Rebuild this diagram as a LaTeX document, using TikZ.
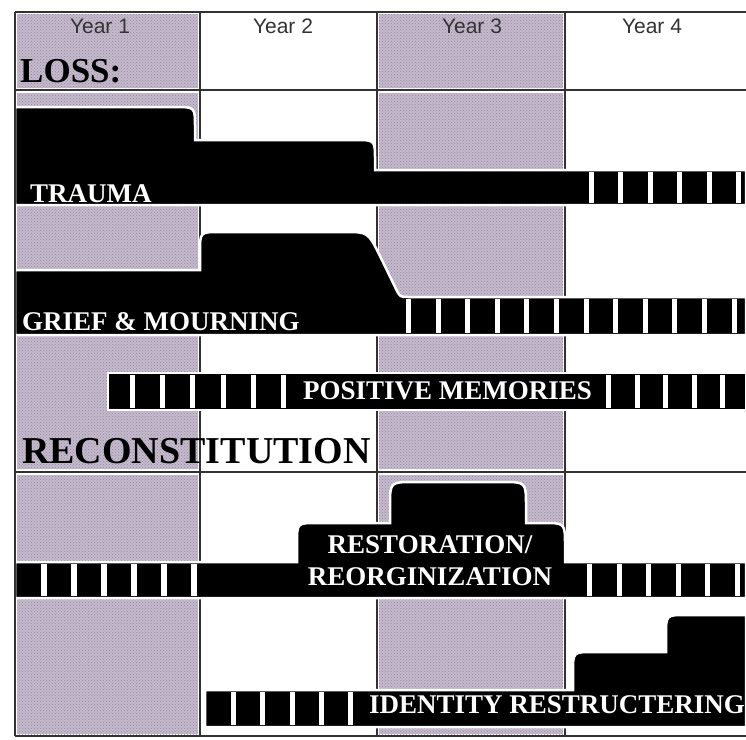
\documentclass[tikz,border=0pt]{standalone}
\usepackage{fontspec}
\setmainfont{Liberation Serif}
\newfontfamily\yearfont{Liberation Sans}
\usetikzlibrary{patterns}
\definecolor{shadecol}{RGB}{196,186,204}
\definecolor{dotcol}{RGB}{150,136,162}
\definecolor{rulecol}{RGB}{50,50,50}

\begin{document}
\begin{tikzpicture}[x=1pt, y=-1pt,
		colshade/.style={fill=shadecol, postaction={pattern=crosshatch dots, pattern color=dotcol}},
		rule/.style={draw=rulecol, line width=1.2pt},
		bar/.style={fill=black, draw=white, line width=2.5pt},
		stripe/.style={fill=white},
		bartext/.style={text=white, inner sep=0pt, font=\fontsize{27}{32}\selectfont\bfseries},
		headtext/.style={inner sep=0pt, font=\fontsize{#1}{#1}\selectfont\bfseries},
		yeartext/.style={inner sep=0pt, text=black!80, font=\yearfont\fontsize{21}{21}\selectfont}]
		\useasboundingbox (0,0) rectangle (746,739);
		\clip (0,0) rectangle (746,739);
		\fill[white] (0,0) rectangle (746,739);
		\foreach \x/\w in {17/181, 379/184} {
			\fill[colshade] (\x,14) rectangle ++(\w,74);
			\fill[colshade] (\x,93) rectangle ++(\w,376);
			\fill[colshade] (\x,475) rectangle ++(\w,259);
		}
		\foreach \y in {12, 90, 472, 736}
			\draw[rule] (15,\y) -- (746,\y);
		\foreach \x in {200, 377, 565}
			\draw[rule] (\x,12) -- (\x,736);
		\node[yeartext, anchor=base] (year1) at (100,33) {Year 1};
		\node[yeartext, anchor=base] (year2) at (283,33) {Year 2};
		\node[yeartext, anchor=base] (year3) at (472,33) {Year 3};
		\node[yeartext, anchor=base] (year4) at (652,33) {Year 4};
		\node[headtext=35, anchor=base west] (loss) at (20,82) {LOSS:};
		\fill[bar] (15,205) -- (15,107) -- (175,107) .. controls (195,107) .. (195,127) -- (195,140) -- (355,140) .. controls (375,140) .. (375,160) -- (375,170) -- (746,170) -- (746,205) -- cycle;
		\foreach \i in {0,...,5}
			\fill[stripe] ({589+29.4*\i},172) rectangle ++(5,31);
		\fill[bar] (15,335) -- (15,270) -- (200,270) -- (200,252) .. controls (200,232) .. (220,232) -- (345,232) .. controls (368,232) .. (380,256) -- (396,289) .. controls (400,297) .. (409,297) -- (746,297) -- (746,335) -- cycle;
		\foreach \i in {0,...,11}
			\fill[stripe] ({406+29.6*\i},299) rectangle ++(5,34);
		\fill[bar] (108,373) rectangle (746,410);
		\foreach \i in {0,...,5}
			\fill[stripe] ({130+30.2*\i},375) rectangle ++(5,33);
		\foreach \i in {0,...,4}
			\fill[stripe] ({606+28.5*\i},375) rectangle ++(5,33);
		\node[headtext=38, anchor=base west] (recon) at (22,463) {RECONSTITUTION};
		\fill[bar] (15,598) -- (15,562) -- (297,562) -- (297,543) .. controls (297,523) .. (317,523) -- (390,523) -- (390,506) .. controls (390,482) .. (414,482) -- (502,482) .. controls (526,482) .. (526,506) -- (526,523) -- (543,523) .. controls (565,523) .. (565,545) -- (565,562) -- (746,562) -- (746,598) -- cycle;
		\foreach \i in {0,...,5}
			\fill[stripe] ({41+30*\i},564) rectangle ++(5.5,32);
		\foreach \i in {0,...,5}
			\fill[stripe] ({587+29.6*\i},564) rectangle ++(5,32);
		\fill[bar] (205,727) -- (205,690) -- (573,690) -- (573,672) .. controls (573,652) .. (593,652) -- (666,652) -- (666,635) .. controls (666,615) .. (686,615) -- (746,615) -- (746,727) -- cycle;
		\foreach \i in {0,...,4}
			\fill[stripe] ({231+29.3*\i},692) rectangle ++(5,33);
		\draw[rule] (15,12) -- (15,736);
		\node[bartext, anchor=base west] (trauma) at (30,202) {TRAUMA};
		\node[bartext, anchor=base west] (grief) at (22,330) {GRIEF \& MOURNING};
		\node[bartext, anchor=base west] (memories) at (303,399) {POSITIVE MEMORIES};
		\node[bartext, anchor=base] (restore) at (430,553) {RESTORATION/};
		\node[bartext, anchor=base] (reorg) at (430,585) {REORGINIZATION};
		\node[bartext, anchor=base west] (identity) at (369,713) {IDENTITY RESTRUCTERING};
		\end{tikzpicture}
\end{document}
